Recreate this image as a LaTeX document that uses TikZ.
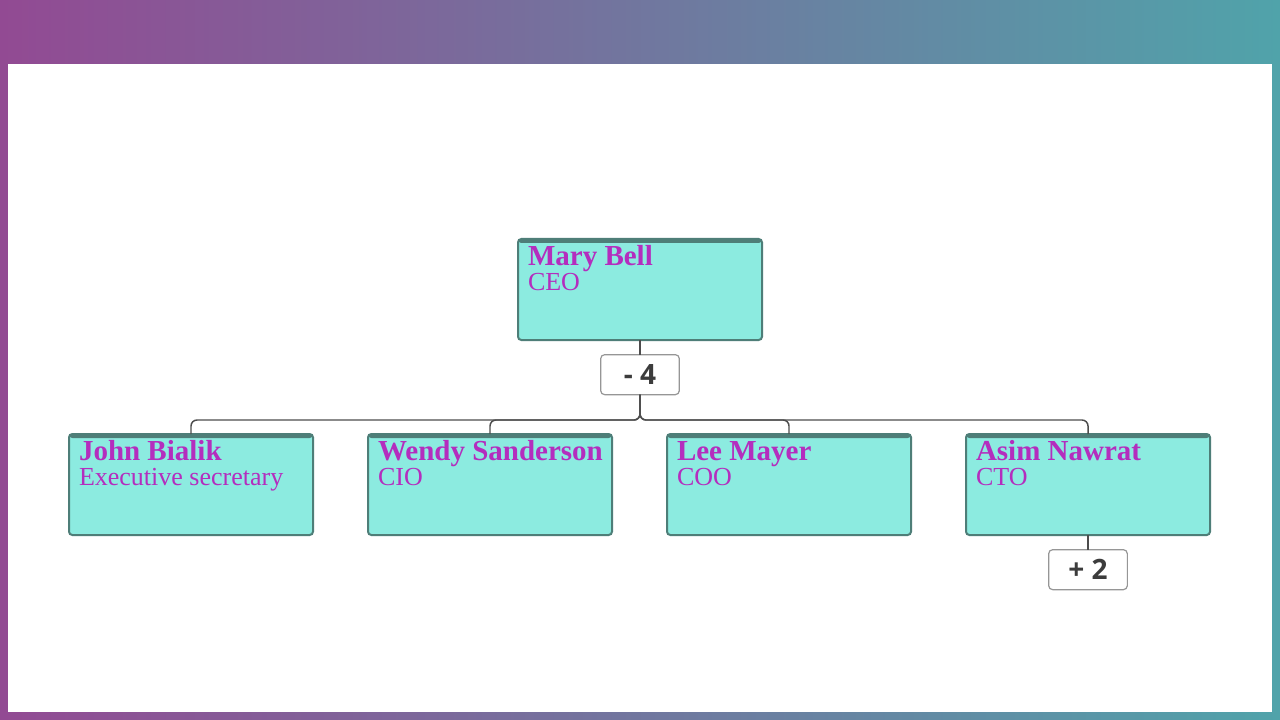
\documentclass[tikz,border=0pt]{standalone}
\usepackage{fontspec}
\setmainfont{Liberation Serif}
\newfontfamily\countfont{Open Sans}
\usetikzlibrary{positioning}
\definecolor{bgleft}{RGB}{146,74,147}
\definecolor{bgright}{RGB}{80,163,170}
\definecolor{cardfill}{RGB}{140,235,224}
\definecolor{cardline}{RGB}{78,126,120}
\definecolor{nametext}{RGB}{180,45,190}
\definecolor{linkcol}{RGB}{77,77,77}
\definecolor{countline}{RGB}{150,150,150}
\definecolor{counttext}{RGB}{60,60,60}
\newcommand\cardtext[2]{\parbox[t][75.75pt][t]{168pt}{\fontsize{19.5pt}{18.75pt}\selectfont\lineskiplimit=-\maxdimen
    \rule{0pt}{19.5pt}\mbox{\fontsize{21.75pt}{18.75pt}\bfseries\selectfont #1}\\\mbox{#2}}}
\tikzset {
    outer sep=0pt,
    card/.style={draw=cardline, fill=cardfill, line width=1.5pt, rounded corners=2.5pt,
        minimum width=183pt, minimum height=75.75pt, inner sep=0pt, text=nametext,
        path picture={\fill[cardline] (path picture bounding box.north west) rectangle ([yshift=-3pt]path picture bounding box.north east);}},
    count/.style={draw=countline, fill=white, line width=0.9pt, rounded corners=3pt,
        minimum width=59pt, minimum height=30pt, inner sep=0pt, text=counttext,
        font=\countfont\bfseries\fontsize{21pt}{21pt}\selectfont},
    link/.style={draw=linkcol, line width=1.1pt, rounded corners=4.5pt}
}
\begin{document}
\begin{tikzpicture}[x=0.75pt, y=-0.75pt]
    \useasboundingbox (0,0) rectangle (1280,720);
    \shade[left color=bgleft, right color=bgright] (0,0) rectangle (1280,720);
    \fill[white] (8,64) rectangle (1272,712);

    \node[card] (mary) at (640,289.5) {\cardtext{Mary Bell}{CEO}};
    \node[count, below=11pt of mary] (minus) {- 4};
    \node[card] (john) at (191,484.5) {\cardtext{John Bialik}{Executive secretary}};
    \node[card, right=41.25pt of john] (wendy) {\cardtext{Wendy Sanderson}{CIO}};
    \node[card, right=41.25pt of wendy] (lee) {\cardtext{Lee Mayer}{COO}};
    \node[card, right=41.25pt of lee] (asim) {\cardtext{Asim Nawrat}{CTO}};
    \node[count, below=11pt of asim] (plus) {+ 2};
    \coordinate (bus) at (640,420);

    \draw[link] (mary) -- (minus);
    \foreach \c in {john, wendy, lee, asim}
        \draw[link] (minus.south) -- (minus.south |- bus) -| (\c.north);
    \draw[link] (asim) -- (plus);
\end{tikzpicture}
\end{document}
